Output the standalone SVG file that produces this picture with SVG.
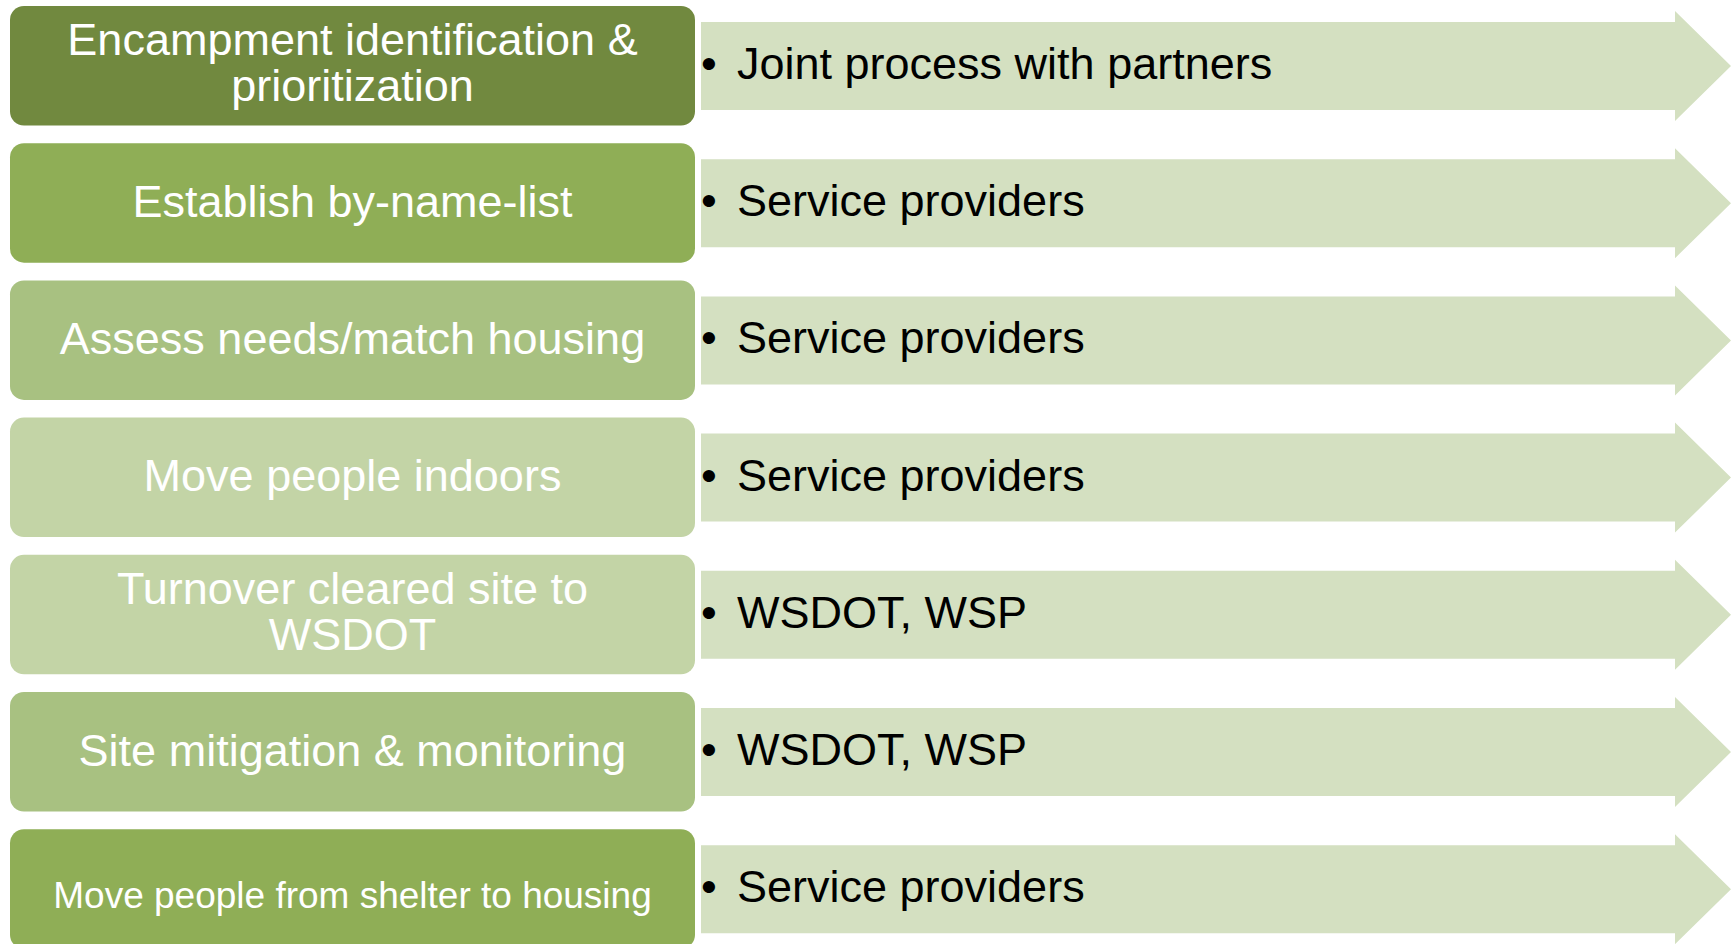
<svg xmlns="http://www.w3.org/2000/svg" width="1735" height="944" viewBox="0 0 1735 944">
<defs>
<style>
.box{stroke:none}
.c1{fill:#71893F}
.c2{fill:#8FAE56}
.c3{fill:#A8C181}
.c4{fill:#C3D4A6}
.arrow{fill:#D4E0C1}
.bt{font-family:"Liberation Sans",Arial,sans-serif;font-size:45px;fill:#FFFFFF;text-anchor:middle}
.rt{font-family:"Liberation Sans",Arial,sans-serif;font-size:45px;fill:#000000}
</style>
<polygon id="arr" class="arrow" points="701,22 1675,22 1675,11 1731,66 1675,121 1675,110 701,110"/>
</defs>
<rect width="1735" height="944" fill="#FFFFFF"/>
<g id="connectors">
<use href="#arr" transform="translate(0,0)"/>
<use href="#arr" transform="translate(0,137.2)"/>
<use href="#arr" transform="translate(0,274.4)"/>
<use href="#arr" transform="translate(0,411.6)"/>
<use href="#arr" transform="translate(0,548.8)"/>
<use href="#arr" transform="translate(0,686)"/>
<use href="#arr" transform="translate(0,823.2)"/>
</g>
<g id="row1">
<rect class="box c1" x="10" y="6" width="685" height="119.5" rx="14"/>
<text class="bt" x="352.5" y="55">Encampment identification &amp;</text>
<text class="bt" x="352.5" y="101">prioritization</text>
<text class="rt" x="701" y="79">•</text>
<text class="rt" x="737" y="79">Joint process with partners</text>
</g>
<g id="row2">
<rect class="box c2" x="10" y="143.2" width="685" height="119.5" rx="14"/>
<text class="bt" x="352.5" y="217">Establish by-name-list</text>
<text class="rt" x="701" y="216">•</text>
<text class="rt" x="737" y="216">Service providers</text>
</g>
<g id="row3">
<rect class="box c3" x="10" y="280.4" width="685" height="119.5" rx="14"/>
<text class="bt" x="352.5" y="354">Assess needs/match housing</text>
<text class="rt" x="701" y="353">•</text>
<text class="rt" x="737" y="353">Service providers</text>
</g>
<g id="row4">
<rect class="box c4" x="10" y="417.6" width="685" height="119.5" rx="14"/>
<text class="bt" x="352.5" y="491">Move people indoors</text>
<text class="rt" x="701" y="490.5">•</text>
<text class="rt" x="737" y="490.5">Service providers</text>
</g>
<g id="row5">
<rect class="box c4" x="10" y="554.8" width="685" height="119.5" rx="14"/>
<text class="bt" x="352.5" y="604">Turnover cleared site to</text>
<text class="bt" x="352.5" y="650">WSDOT</text>
<text class="rt" x="701" y="627.5">•</text>
<text class="rt" x="737" y="627.5">WSDOT, WSP</text>
</g>
<g id="row6">
<rect class="box c3" x="10" y="692" width="685" height="119.5" rx="14"/>
<text class="bt" x="352.5" y="766">Site mitigation &amp; monitoring</text>
<text class="rt" x="701" y="765">•</text>
<text class="rt" x="737" y="765">WSDOT, WSP</text>
</g>
<g id="row7">
<rect class="box c2" x="10" y="829.2" width="685" height="119.5" rx="14"/>
<text class="bt" x="352.5" y="908" style="font-size:37px">Move people from shelter to housing</text>
<text class="rt" x="701" y="902">•</text>
<text class="rt" x="737" y="902">Service providers</text>
</g>
</svg>
